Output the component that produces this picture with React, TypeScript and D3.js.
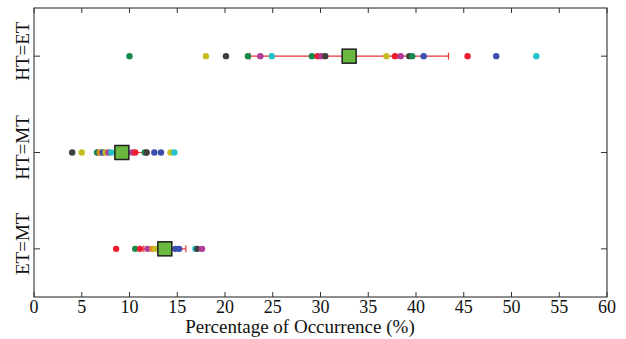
import React from "react";
import * as d3 from "d3";

const categories = ["HT=ET", "HT=MT", "ET=MT"];
const xTicks = d3.range(0, 61, 5);

const palette: Record<string, string> = {
  green: "#168a4c",
  yellow: "#c6bd22",
  gray: "#3f3f3f",
  magenta: "#b03c98",
  cyan: "#26c3c6",
  red: "#ee1d2f",
  blue: "#3a4fae",
  orange: "#df8a22",
};

// individual values per row (%)
const htEtValues = [10.0, 18.0, 20.1, 22.4, 23.7, 24.9, 29.1, 29.7, 30.1, 30.5, 36.9, 37.8, 38.4, 39.3, 39.6, 40.8, 45.4, 48.4, 52.6];
const htEtColors = ["green", "yellow", "gray", "green", "magenta", "cyan", "green", "red", "magenta", "gray", "yellow", "red", "magenta", "gray", "green", "blue", "red", "blue", "cyan"];

const htMtValues = [4.0, 5.0, 6.6, 6.9, 7.2, 7.5, 7.8, 8.1, 10.3, 10.6, 11.6, 11.8, 12.6, 13.3, 14.3, 14.7];
const htMtColors = ["gray", "yellow", "green", "orange", "blue", "yellow", "magenta", "cyan", "magenta", "red", "green", "gray", "blue", "blue", "yellow", "cyan"];

const etMtValues = [8.6, 10.6, 11.1, 11.9, 12.4, 12.7, 14.8, 15.2, 16.9, 17.1, 17.6];
const etMtColors = ["red", "green", "red", "magenta", "orange", "yellow", "blue", "blue", "cyan", "gray", "magenta"];

const means = [33.0, 9.2, 13.7];
const spreads = [10.4, 2.6, 2.2];

const rows = [
  { values: htEtValues, colors: htEtColors },
  { values: htMtValues, colors: htMtColors },
  { values: etMtValues, colors: etMtColors },
];

export default function App() {
  const width = 626;
  const height = 339;
  const left = 34, right = 607, top = 8, bottom = 297;

  const x = d3.scaleLinear().domain([0, 60]).range([left, right]);
  const y = d3.scalePoint<string>().domain(categories).range([top, bottom]).padding(0.5);

  const serif = { fontFamily: "Liberation Serif, serif" };

  return (
    <svg width={width} height={height} style={{ position: "absolute", left: 0, top: 0, background: "#fff" }}>
      {/* frame */}
      <rect x={left} y={top} width={right - left} height={bottom - top} fill="none" stroke="#444" strokeWidth={1.2} />

      {/* x ticks, inward top and bottom */}
      {xTicks.map((t) => (
        <g key={t}>
          <line x1={x(t)} x2={x(t)} y1={bottom} y2={bottom - 5} stroke="#333" />
          <line x1={x(t)} x2={x(t)} y1={top} y2={top + 5} stroke="#333" />
          <text x={x(t)} y={313} textAnchor="middle" style={serif} fontSize={18} fill="#111">
            {t}
          </text>
        </g>
      ))}

      {/* y ticks and labels */}
      {categories.map((c) => (
        <g key={c}>
          <line x1={left} x2={left + 6} y1={y(c)} y2={y(c)} stroke="#333" />
          <line x1={right} x2={right - 6} y1={y(c)} y2={y(c)} stroke="#333" />
          <text
            transform={`translate(29, ${(y(c) as number) - 5}) rotate(-90)`}
            textAnchor="middle"
            style={serif}
            fontSize={19}
            fill="#111"
          >
            {c}
          </text>
        </g>
      ))}

      {/* rows */}
      {rows.map((r, i) => {
        const cy = y(categories[i]) as number;
        const lo = x(means[i] - spreads[i]);
        const hi = x(means[i] + spreads[i]);
        return (
          <g key={i}>
            <line x1={lo} x2={hi} y1={cy} y2={cy} stroke="#ee3338" strokeWidth={1.2} />
            <line x1={lo} x2={lo} y1={cy - 3.5} y2={cy + 3.5} stroke="#ee3338" strokeWidth={1.2} />
            <line x1={hi} x2={hi} y1={cy - 3.5} y2={cy + 3.5} stroke="#ee3338" strokeWidth={1.2} />
            {r.values.map((v, j) => (
              <circle key={j} cx={x(v)} cy={cy} r={3.2} fill={palette[r.colors[j]]} />
            ))}
            <rect
              x={x(means[i]) - 7}
              y={cy - 7}
              width={14}
              height={14}
              fill="#6ab83f"
              stroke="#1f1f1f"
              strokeWidth={1.5}
            />
          </g>
        );
      })}

      <text x={300} y={333} textAnchor="middle" style={serif} fontSize={19} fill="#111">
        Percentage of Occurrence (%)
      </text>
    </svg>
  );
}
